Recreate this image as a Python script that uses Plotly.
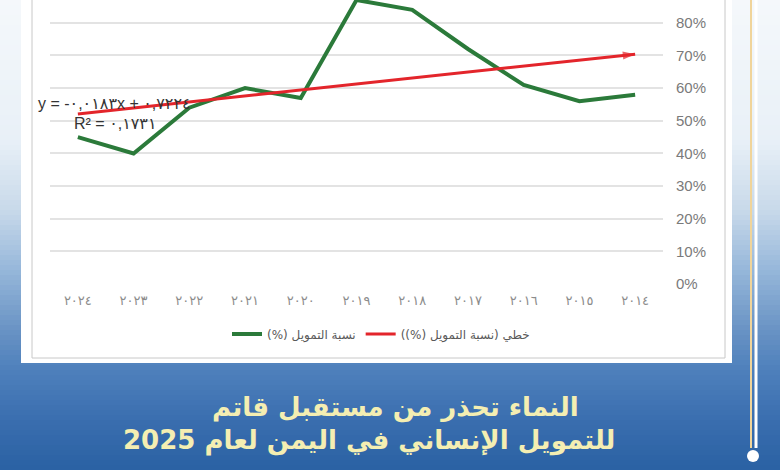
import plotly.graph_objects as go

# ---------------- data ----------------
years = [2014, 2015, 2016, 2017, 2018, 2019, 2020, 2021, 2022, 2023, 2024]
funding_pct = [0.58, 0.56, 0.61, 0.72, 0.84, 0.87, 0.57, 0.60, 0.54, 0.40, 0.45]
trend_slope = -0.0183
trend_intercept = 0.7224
trend_r2 = 0.1731
series_name = "نسبة التمويل (%)"
trend_name = "خطي (نسبة التمويل (%))"
title_lines = ["النماء تحذر من مستقبل قاتم", "للتمويل الإنساني في اليمن لعام 2025"]

AR_DIGITS = str.maketrans("0123456789.", "٠١٢٣٤٥٦٧٨٩,")


def ar(s):
    return str(s).translate(AR_DIGITS)


year_labels = [ar(y) for y in years]
idx = list(range(1, len(years) + 1))
trend_vals = [trend_intercept + trend_slope * i for i in idx]

# ---------------- geometry helpers (pixel -> paper) ----------------
W, H = 780, 470
ML, MR, MT, MB = 50, 117, 0, 186
PW = W - ML - MR
PH = H - MT - MB


def px(x):
    return (x - ML) / PW


def py(y):
    return (H - MB - y) / PH


def lerp(a, b, t):
    return tuple(round(a[k] + (b[k] - a[k]) * t) for k in range(3))


grad_stops = [
    (0, (245, 248, 251)),
    (140, (232, 240, 247)),
    (210, (200, 217, 234)),
    (270, (150, 183, 218)),
    (330, (105, 147, 196)),
    (370, (78, 128, 188)),
    (420, (58, 110, 175)),
    (470, (42, 97, 163)),
]


def grad_color(y):
    for (y0, c0), (y1, c1) in zip(grad_stops[:-1], grad_stops[1:]):
        if y0 <= y <= y1:
            return "rgb(%d,%d,%d)" % lerp(c0, c1, (y - y0) / (y1 - y0))
    return "rgb(%d,%d,%d)" % grad_stops[-1][1]


shapes = []
band = 5
for y in range(0, H, band):
    shapes.append(dict(type="rect", xref="paper", yref="paper",
                       x0=px(-2), x1=px(W + 2), y0=py(y), y1=py(y + band + 1),
                       fillcolor=grad_color(y + band / 2), line=dict(width=0),
                       layer="below"))
# white panel and inner border
shapes.append(dict(type="rect", xref="paper", yref="paper",
                   x0=px(21), x1=px(732), y0=py(-5), y1=py(363),
                   fillcolor="white", line=dict(width=0), layer="below"))
shapes.append(dict(type="rect", xref="paper", yref="paper",
                   x0=px(32), x1=px(725), y0=py(-5), y1=py(358),
                   fillcolor="rgba(0,0,0,0)", line=dict(color="#c8c8c8", width=1),
                   layer="below"))
# decorative frame lines on the right
shapes.append(dict(type="line", xref="paper", yref="paper",
                   x0=px(751), x1=px(751), y0=py(-2), y1=py(448),
                   line=dict(color="#f0d49a", width=2), layer="below"))
shapes.append(dict(type="line", xref="paper", yref="paper",
                   x0=px(756), x1=px(756), y0=py(-2), y1=py(448),
                   line=dict(color="#ffffff", width=3), layer="below"))
shapes.append(dict(type="circle", xref="paper", yref="paper",
                   x0=px(747), x1=px(759), y0=py(450), y1=py(462),
                   fillcolor="white", line=dict(width=0), layer="below"))

fig = go.Figure()
fig.add_trace(go.Scatter(
    x=year_labels, y=funding_pct, mode="lines",
    name="\u202b" + series_name + "\u202c",
    line=dict(color="#2b7a3a", width=4),
))
fig.add_trace(go.Scatter(
    x=year_labels, y=trend_vals, mode="lines",
    name="\u202b" + trend_name + "\u202c",
    line=dict(color="#e3252b", width=3),
))
# arrowhead at the 2014 end of the trend line (points ordered so the arrow follows the line)
fig.add_trace(go.Scatter(
    x=[year_labels[1], year_labels[0]], y=[trend_vals[1], trend_vals[0]],
    mode="markers", showlegend=False,
    marker=dict(symbol="arrow", angleref="previous", size=[0, 13],
                color="#e3252b", line=dict(width=0)),
    hoverinfo="skip",
))

annotations = [
    dict(xref="paper", yref="paper", x=px(36), y=py(104), xanchor="left",
         yanchor="middle", showarrow=False,
         text="y = " + ar("%.4f" % trend_slope) + "x + " + ar("%.4f" % trend_intercept),
         font=dict(family="Liberation Sans, DejaVu Sans", size=16, color="#333333")),
    dict(xref="paper", yref="paper", x=px(72), y=py(123), xanchor="left",
         yanchor="middle", showarrow=False,
         text="R² = " + ar("%.4f" % trend_r2),
         font=dict(family="Liberation Sans, DejaVu Sans", size=16, color="#333333")),
    dict(xref="paper", yref="paper", x=px(395), y=py(407), xanchor="center",
         yanchor="middle", showarrow=False, text="<b>" + title_lines[0] + "</b>",
         font=dict(family="DejaVu Sans", size=26, color="#f4eeb2")),
    dict(xref="paper", yref="paper", x=px(369), y=py(440), xanchor="center",
         yanchor="middle", showarrow=False, text="<b>" + title_lines[1] + "</b>",
         font=dict(family="DejaVu Sans", size=26, color="#f4eeb2")),
]

fig.update_layout(
    width=W, height=H,
    margin=dict(l=ML, r=MR, t=MT, b=MB, pad=0),
    paper_bgcolor="#2d67a6",
    plot_bgcolor="rgba(0,0,0,0)",
    shapes=shapes,
    annotations=annotations,
    showlegend=True,
    legend=dict(orientation="h", x=px(381), xanchor="center", y=py(334),
                yanchor="middle", bgcolor="rgba(0,0,0,0)",
                font=dict(family="DejaVu Sans, Liberation Sans", size=12, color="#595959"),
                itemwidth=30),
    xaxis=dict(type="category", range=[len(years) - 0.5, -0.5], showgrid=False,
               showline=False, zeroline=False, ticks="",
               tickfont=dict(family="DejaVu Sans", size=13, color="#8c8c8c"),
               ticklabelstandoff=7),
    yaxis=dict(side="right", range=[0, 0.87], dtick=0.1, tickformat=".0%",
               showgrid=True, gridcolor="#e3e3e3", gridwidth=1.5,
               zeroline=False, showline=False, ticks="",
               tickfont=dict(family="Liberation Sans, Arial", size=15, color="#7a7a7a"),
               ticklabelstandoff=12),
)

fig.write_html("out.html", config={"displayModeBar": False},
               post_script="document.body.style.margin='0';document.body.style.overflow='hidden';")
